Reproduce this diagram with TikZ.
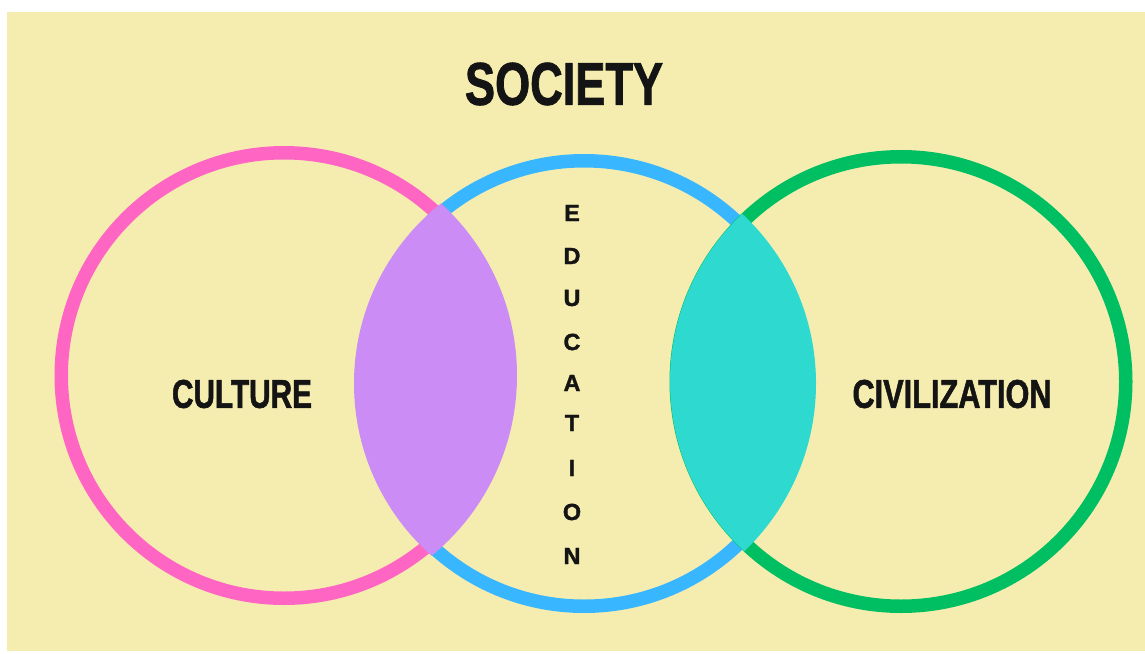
\documentclass[tikz,border=0pt]{standalone}
\usepackage{fontspec}
\setmainfont{Liberation Sans}
\newfontfamily\heavyfont{Liberation Sans}[BoldFeatures={FakeBold=1.6}]
\usepackage{graphicx}
\definecolor{bgc}{RGB}{245,237,176}
\definecolor{pinkc}{RGB}{255,102,196}
\definecolor{bluec}{RGB}{56,182,255}
\definecolor{greenc}{RGB}{0,191,99}
\definecolor{purpc}{RGB}{203,140,245}
\definecolor{tealc}{RGB}{46,217,208}
\definecolor{inkc}{RGB}{20,20,20}
\tikzset{
  ring/.style={line width=6.75pt},
  label/.style={inner sep=0pt, text=inkc, font=\heavyfont\bfseries},
  vletter/.style={inner sep=0pt, text=inkc, font=\fontsize{11.7}{12}\selectfont\heavyfont\bfseries}
}
\begin{document}
\begin{tikzpicture}[x=0.5pt,y=-0.5pt]
\useasboundingbox (0,0) rectangle (1145,653);
\fill[white] (0,0) rectangle (1145,653);
\fill[bgc] (7,12) rectangle (1145,651);
\coordinate (cP) at (284,375.5);
\coordinate (cB) at (584,383.5);
\coordinate (cG) at (901,381.5);
% rings
\draw[ring, pinkc] (cP) circle[radius=222.75];
\draw[ring, bluec] (cB) circle[radius=222.75];
\draw[ring, greenc] (cG) circle[radius=224.75];
% lenses
\begin{scope}
  \clip (cP) circle[radius=233];
  \fill[purpc] (cB) circle[radius=230];
\end{scope}
\begin{scope}
  \clip (cB) circle[radius=232];
  \fill[tealc] (cG) circle[radius=231];
\end{scope}
% texts
\node[label] (society) at (564,84) {\resizebox{99pt}{21pt}{SOCIETY}};
\node[label] (culture) at (242,394) {\resizebox{70pt}{14pt}{CULTURE}};
\node[label] (civil) at (952,394) {\resizebox{99.5pt}{14pt}{CIVILIZATION}};
\foreach \ch/\yy [count=\i] in {E/213,D/256,U/298,C/342,A/383,T/423,I/468,O/512,N/556}{
  \node[vletter] (edu\i) at (572,\yy) {\ch};
}
\end{tikzpicture}
\end{document}
